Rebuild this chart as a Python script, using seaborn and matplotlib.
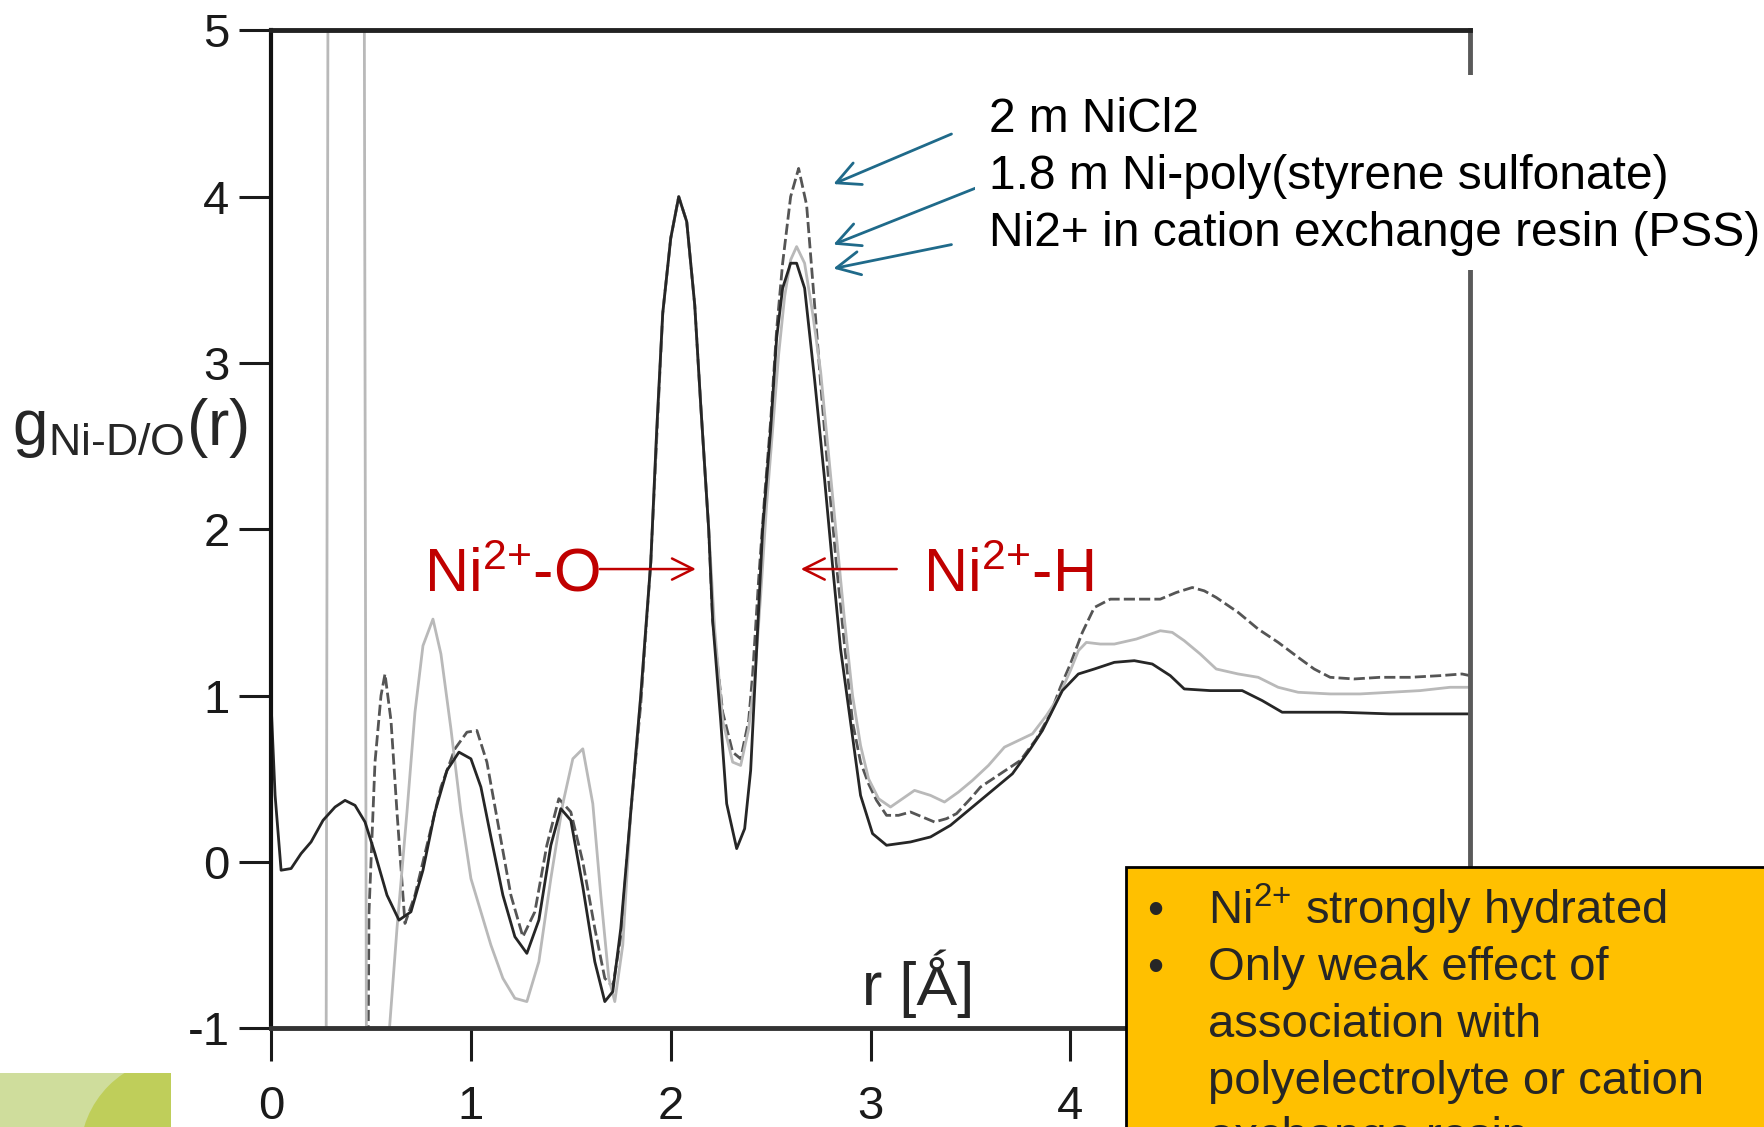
import numpy as np
import pandas as pd
import matplotlib
matplotlib.use('Agg')
import matplotlib.pyplot as plt
import matplotlib.patches as mpatches
import seaborn as sns

# r values [Angstrom] and g(r) values
r_nicl2 = [0.00, 0.47, 0.49, 0.52, 0.55, 0.57, 0.60, 0.63, 0.67, 0.72,
           0.78, 0.85, 0.92, 0.98, 1.03, 1.08, 1.14, 1.20, 1.26, 1.32,
           1.38, 1.44, 1.50, 1.56, 1.62, 1.67, 1.71, 1.75, 1.80, 1.85,
           1.90, 1.93, 1.96, 2.00, 2.04, 2.08, 2.12, 2.15, 2.19, 2.21,
           2.26, 2.31, 2.35, 2.39, 2.41, 2.44, 2.47, 2.50, 2.53, 2.56,
           2.60, 2.64, 2.68, 2.72, 2.75, 2.79, 2.83, 2.87, 2.91, 2.95,
           2.99, 3.03, 3.08, 3.14, 3.20, 3.26, 3.32, 3.38, 3.43, 3.50,
           3.55, 3.65, 3.75, 3.83, 3.90, 3.95, 4.00, 4.06, 4.12, 4.20,
           4.30, 4.45, 4.53, 4.61, 4.67, 4.73, 4.84, 4.94, 5.04, 5.14,
           5.22, 5.30, 5.42, 5.55, 5.70, 5.85, 5.96, 6.00]
g_nicl2 = [-4.0, -4.0, -0.30, 0.60, 1.00, 1.13, 0.85, 0.30, -0.37, -0.20,
           0.10, 0.45, 0.68, 0.78, 0.79, 0.60, 0.20, -0.20, -0.45, -0.30,
           0.10, 0.38, 0.30, 0.00, -0.40, -0.70, -0.75, -0.45, 0.30, 0.95,
           1.80, 2.55, 3.30, 3.75, 4.00, 3.85, 3.35, 2.75, 2.00, 1.45,
           0.90, 0.66, 0.62, 0.85, 1.13, 1.70, 2.20, 2.65, 3.20, 3.60,
           4.00, 4.17, 3.95, 3.35, 2.88, 2.30, 1.78, 1.30, 0.84, 0.60,
           0.47, 0.37, 0.28, 0.28, 0.30, 0.27, 0.24, 0.26, 0.29, 0.38,
           0.45, 0.53, 0.61, 0.74, 0.89, 1.05, 1.19, 1.38, 1.53, 1.58,
           1.58, 1.58, 1.62, 1.65, 1.63, 1.59, 1.50, 1.40, 1.32, 1.23,
           1.16, 1.11, 1.10, 1.11, 1.11, 1.12, 1.13, 1.12]

r_pss = [0.00, 0.27, 0.29, 0.46, 0.48, 0.53, 0.58, 0.63, 0.68, 0.72,
         0.76, 0.81, 0.85, 0.90, 0.95, 1.00, 1.05, 1.10, 1.16, 1.22,
         1.28, 1.34, 1.40, 1.46, 1.51, 1.56, 1.61, 1.65, 1.69, 1.72,
         1.76, 1.80, 1.85, 1.90, 1.93, 1.96, 2.00, 2.04, 2.08, 2.12,
         2.15, 2.19, 2.22, 2.26, 2.31, 2.35, 2.39, 2.42, 2.45, 2.48,
         2.51, 2.54, 2.57, 2.60, 2.63, 2.67, 2.71, 2.75, 2.79, 2.83,
         2.87, 2.91, 2.95, 2.99, 3.04, 3.10, 3.16, 3.22, 3.30, 3.37,
         3.44, 3.51, 3.59, 3.67, 3.74, 3.81, 3.88, 3.94, 4.00, 4.04,
         4.08, 4.15, 4.22, 4.33, 4.45, 4.51, 4.57, 4.65, 4.73, 4.84,
         4.94, 5.04, 5.14, 5.30, 5.45, 5.60, 5.75, 5.90, 6.00]
g_pss = [-5.0, -5.0, 9.0, 9.0, -3.0, -2.0, -1.20, -0.40, 0.30, 0.90,
         1.30, 1.46, 1.25, 0.80, 0.30, -0.10, -0.30, -0.50, -0.70, -0.82,
         -0.84, -0.60, -0.10, 0.35, 0.62, 0.68, 0.35, -0.20, -0.70, -0.84,
         -0.50, 0.30, 1.00, 1.80, 2.60, 3.30, 3.75, 4.00, 3.85, 3.35,
         2.75, 2.00, 1.40, 0.85, 0.60, 0.58, 0.80, 1.10, 1.60, 2.15,
         2.60, 3.05, 3.40, 3.62, 3.70, 3.60, 3.30, 2.95, 2.45, 1.95,
         1.45, 1.00, 0.70, 0.50, 0.38, 0.33, 0.38, 0.43, 0.40, 0.36,
         0.42, 0.49, 0.58, 0.69, 0.73, 0.77, 0.88, 0.99, 1.15, 1.27,
         1.32, 1.31, 1.31, 1.34, 1.39, 1.38, 1.33, 1.25, 1.16, 1.13,
         1.11, 1.05, 1.02, 1.01, 1.01, 1.02, 1.03, 1.05, 1.05]

r_resin = [0.00, 0.02, 0.05, 0.10, 0.15, 0.20, 0.26, 0.32, 0.37, 0.42,
           0.47, 0.52, 0.58, 0.64, 0.70, 0.76, 0.82, 0.88, 0.94, 1.00,
           1.05, 1.10, 1.16, 1.22, 1.28, 1.34, 1.40, 1.45, 1.50, 1.56,
           1.62, 1.67, 1.71, 1.75, 1.80, 1.85, 1.90, 1.93, 1.96, 2.00,
           2.04, 2.08, 2.12, 2.15, 2.19, 2.21, 2.25, 2.28, 2.33, 2.37,
           2.40, 2.43, 2.46, 2.50, 2.53, 2.56, 2.60, 2.63, 2.67, 2.72,
           2.77, 2.81, 2.85, 2.90, 2.95, 3.01, 3.08, 3.20, 3.30, 3.40,
           3.51, 3.61, 3.71, 3.80, 3.86, 3.96, 4.04, 4.12, 4.22, 4.32,
           4.41, 4.50, 4.57, 4.70, 4.86, 4.96, 5.06, 5.20, 5.35, 5.60,
           5.80, 6.00]
g_resin = [0.95, 0.40, -0.05, -0.04, 0.05, 0.12, 0.25, 0.33, 0.37, 0.34,
           0.24, 0.05, -0.20, -0.35, -0.30, -0.05, 0.30, 0.55, 0.66, 0.62,
           0.45, 0.15, -0.20, -0.45, -0.55, -0.35, 0.10, 0.32, 0.25, -0.15,
           -0.60, -0.84, -0.78, -0.40, 0.30, 1.00, 1.80, 2.60, 3.30, 3.75,
           4.00, 3.85, 3.35, 2.75, 2.00, 1.45, 0.85, 0.35, 0.08, 0.20,
           0.55, 1.28, 2.00, 2.60, 3.15, 3.45, 3.60, 3.60, 3.45, 2.90,
           2.30, 1.78, 1.28, 0.84, 0.40, 0.17, 0.10, 0.12, 0.15, 0.22,
           0.33, 0.43, 0.53, 0.68, 0.79, 1.03, 1.13, 1.16, 1.20, 1.21,
           1.19, 1.12, 1.04, 1.03, 1.03, 0.97, 0.90, 0.90, 0.90, 0.89,
           0.89, 0.89]

series_names = ['2 m NiCl2',
                '1.8 m Ni-poly(styrene sulfonate)',
                'Ni2+ in cation exchange resin (PSS)']
x_ticks = [0, 1, 2, 3, 4, 5, 6]
x_labels = ['0', '1', '2', '3', '4', '', '']   # 5 and 6 sit behind the yellow box
y_ticks = [-1, 0, 1, 2, 3, 4, 5]
bullets = [r'Ni$^{2\text{+}}$ strongly hydrated', 'Only weak effect of',
           'association with', 'polyelectrolyte or cation', 'exchange resin']

sns.set_style('ticks')
plt.rcParams['font.family'] = ['Liberation Sans', 'DejaVu Sans']
plt.rcParams['axes.unicode_minus'] = False
plt.rcParams['mathtext.fontset'] = 'custom'
plt.rcParams['mathtext.rm'] = 'Liberation Sans'
plt.rcParams['mathtext.it'] = 'Liberation Sans'
plt.rcParams['mathtext.default'] = 'regular'

W, H = 1764, 1127
fig = plt.figure(figsize=(W / 100, H / 100), dpi=100)
fig.patch.set_facecolor('white')
ax = fig.add_axes([271.1 / W, 1 - 1028.2 / H, (1470 - 271.1) / W, (1028.2 - 30.4) / H])


def fx(x):
    return x / W


def fy(y):
    return 1 - y / H


# curves
styles = [('#555555', (0, (4, 1.5)), r_nicl2, g_nicl2),
          ('#b9b9b9', '-', r_pss, g_pss),
          ('#262626', '-', r_resin, g_resin)]
for name, (col, ls, rr, gg) in zip(series_names, styles):
    df = pd.DataFrame({'r': rr, 'g': gg})
    sns.lineplot(data=df, x='r', y='g', ax=ax, color=col, lw=2.0, linestyle=ls,
                 sort=False, estimator=None)

ax.set_xlim(0, 6)
ax.set_ylim(-1, 5)
ax.set_xticks(x_ticks)
ax.set_yticks(y_ticks)
ax.set_xticklabels(x_labels)
ax.set_yticklabels([str(t) for t in y_ticks])
ax.set_xlabel('')
ax.set_ylabel('')
ax.tick_params(axis='x', direction='out', length=24, width=2.2, pad=17,
               labelsize=34, colors='#1a1a1a')
ax.tick_params(axis='y', direction='out', length=23, width=2.2, pad=7,
               labelsize=34, colors='#1a1a1a')
ax.spines['left'].set_color('#111111')
ax.spines['left'].set_linewidth(3)
ax.spines['top'].set_color('#222222')
ax.spines['top'].set_linewidth(3.5)
ax.spines['right'].set_color('#5a5a5a')
ax.spines['right'].set_linewidth(3.5)
ax.spines['bottom'].set_color('#333333')
ax.spines['bottom'].set_linewidth(3.5)

# axis labels
ax.text(3.24, -0.86, 'r [Ǻ]', fontsize=44, ha='center', va='baseline')
fig.text(fx(12), fy(445), r'g$_{Ni\text{-}D/O}$(r)', fontsize=46,
         ha='left', va='baseline')

# white area behind the sample labels (hides the right spine there)
fig.patches.append(mpatches.Rectangle((fx(975), fy(270)), fx(W - 975), (270 - 75) / H,
                                      transform=fig.transFigure, facecolor='white',
                                      edgecolor='none', zorder=3))
for i, name in enumerate(series_names):
    fig.text(fx(989), fy(132 + 57 * i), name, fontsize=34.5, ha='left',
             va='baseline', color='black', zorder=4)

blue = '#1f6a8a'
arrow_tails = [(3.405, 4.377), (3.564, 4.07), (3.405, 3.712)]
arrow_heads = [(2.814, 4.076), (2.814, 3.712), (2.814, 3.568)]
for tail, head in zip(arrow_tails, arrow_heads):
    ax.annotate('', xy=head, xytext=tail, zorder=5, annotation_clip=False,
                arrowprops=dict(arrowstyle='->', color=blue, lw=2,
                                mutation_scale=42, shrinkA=0, shrinkB=0))

# red peak labels
red = '#c00000'
ax.text(1.645, 1.625, r'Ni$^{2\text{+}}$-O', color=red, fontsize=44, ha='right', va='baseline')
ax.text(3.26, 1.625, r'Ni$^{2\text{+}}$-H', color=red, fontsize=44, ha='left', va='baseline')
ax.annotate('', xy=(2.126, 1.761), xytext=(1.645, 1.761),
            arrowprops=dict(arrowstyle='->', color=red, lw=1.8,
                            mutation_scale=38, shrinkA=0, shrinkB=0))
ax.annotate('', xy=(2.651, 1.761), xytext=(3.131, 1.761),
            arrowprops=dict(arrowstyle='->', color=red, lw=1.8,
                            mutation_scale=38, shrinkA=0, shrinkB=0))

# yellow summary box
fig.patches.append(mpatches.Rectangle((fx(1126), fy(H + 20)), fx(W - 1126 + 20), (H + 20 - 867) / H,
                                      transform=fig.transFigure, facecolor='#ffc000',
                                      edgecolor='black', lw=2, zorder=6))
for i, line in enumerate(bullets):
    yb = 924 + 56.5 * i
    if i < 2:
        fig.text(fx(1147), fy(yb), '•', fontsize=33, ha='left', va='baseline', zorder=7)
    fig.text(fx(1208), fy(yb), line, fontsize=34, ha='left', va='baseline', zorder=7)

# slide decoration bottom left
fig.patches.append(mpatches.Rectangle((0, 0), fx(171), (H - 1073) / H,
                                      transform=fig.transFigure, facecolor='#cfdd9c',
                                      edgecolor='none', zorder=2))
deco = mpatches.Ellipse((fx(178), fy(1155)), 2 * 98 / W, 2 * 98 / H,
                        transform=fig.transFigure, facecolor='#bfce5a',
                        edgecolor='none', zorder=2)
clip = mpatches.Rectangle((0, 0), fx(171), (H - 1073) / H, transform=fig.transFigure)
deco.set_clip_path(clip)
fig.patches.append(deco)

fig.savefig('out.png', dpi=100)
